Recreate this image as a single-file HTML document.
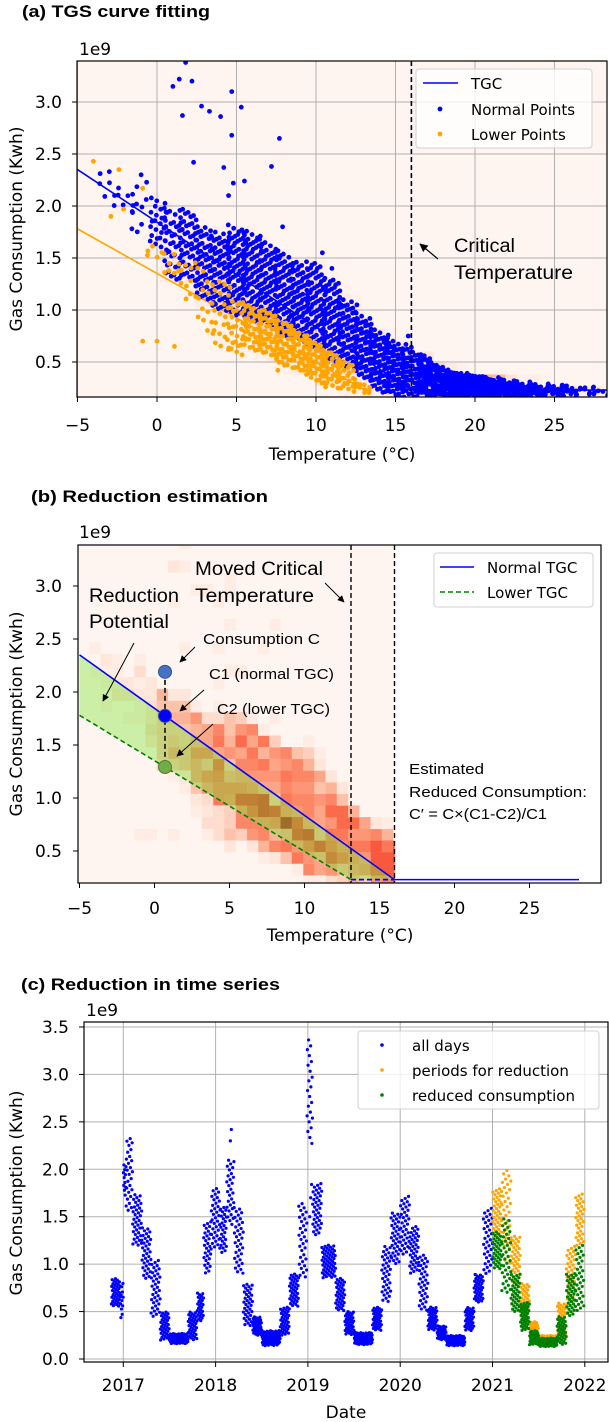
<!DOCTYPE html>
<html><head><meta charset="utf-8">
<style>
html,body{margin:0;padding:0;background:#fff;}
svg{display:block;}
text{font-family:"DejaVu Sans","Liberation Sans",sans-serif;}
.ann{font-family:"Liberation Sans",sans-serif;}
</style></head>
<body>
<svg id="fig" width="609" height="1422" viewBox="0 0 609 1422" xmlns="http://www.w3.org/2000/svg">
<defs>
<clipPath id="clipA"><rect x="77" y="61" width="530" height="336"/></clipPath>
<clipPath id="clipB"><rect x="78" y="545" width="523" height="338"/></clipPath>
<clipPath id="clipC"><rect x="84" y="1022" width="524" height="340"/></clipPath>
<marker id="arr" viewBox="0 0 10 10" refX="9" refY="5" markerWidth="7" markerHeight="7" orient="auto-start-reverse"><path d="M0,0 L10,5 L0,10 z" fill="#000"/></marker>
</defs>
<text x="22" y="17" font-weight="bold" font-size="17" class="ann" textLength="188" lengthAdjust="spacingAndGlyphs">(a) TGS curve fitting</text>
<text x="31" y="502" font-weight="bold" font-size="17" class="ann" textLength="237" lengthAdjust="spacingAndGlyphs">(b) Reduction estimation</text>
<text x="21" y="990" font-weight="bold" font-size="17" class="ann" textLength="259" lengthAdjust="spacingAndGlyphs">(c) Reduction in time series</text>
<g id="gA"></g>
<g id="gB"></g>
<g id="gC"></g>
</svg>
<script>
// ---------- Data: panel (a)/(b) temperature vs consumption (1e9 Kwh) ----------
const tempBins   = [-3,-2,-1,0,1,2,3,4,5,6,7,8,9,10,11,12,13,14,15,16,17,18,19,20,21,22,23,24,25,26,27,28];
const normalLo   = [2.0,1.95,1.7,1.6,1.3,1.3,1.1,1.0,0.95,0.9,0.85,0.75,0.7,0.6,0.5,0.45,0.35,0.22,0.18,0.17,0.17,0.17,0.17,0.17,0.17,0.17,0.17,0.18,0.18,0.19,0.2,0.2];
const normalHi   = [2.35,2.2,2.3,2.1,2.0,2.0,1.8,1.75,1.8,1.75,1.65,1.55,1.45,1.45,1.3,1.1,0.95,0.8,0.7,0.65,0.55,0.45,0.4,0.38,0.35,0.33,0.3,0.28,0.27,0.26,0.25,0.23];
const normalCount= [6,6,10,25,40,50,60,70,80,80,80,80,80,80,80,70,70,70,70,60,60,60,55,55,50,45,40,30,20,15,8,5];
const lowerBins  = [0,1,2,3,4,5,6,7,8,9,10,11,12,13];
const lowerLo    = [1.45,1.3,1.05,0.75,0.6,0.55,0.6,0.55,0.45,0.4,0.3,0.25,0.22,0.2];
const lowerHi    = [1.6,1.55,1.5,1.4,1.3,1.1,1.05,1.0,0.9,0.8,0.7,0.6,0.5,0.3];
const lowerCount = [5,8,10,15,20,30,40,45,45,40,40,35,25,10];
const normalOutT = [1.8,2.2,1.4,1.0,1.6,2.8,3.3,4.0,4.7,5.3,4.7,7.7,2.3,4.2,7.2,4.8,5.5,4.5,-3.0,-1.0,7.9,10.4,11.0,15.8,16.8];
const normalOutV = [3.38,3.2,3.22,3.15,2.87,2.96,2.91,2.86,3.1,2.95,2.68,2.65,2.42,2.37,2.38,2.22,2.24,2.1,2.33,2.3,1.8,1.55,1.4,0.75,0.55];
const lowerOutT  = [-4.0,-2.4,-0.9,-2.9,-2.1,-0.9,0.0,1.1,7.6,10.6,9.4];
const lowerOutV  = [2.43,2.35,2.17,1.9,1.97,0.7,0.7,0.65,0.42,0.26,0.38];
const normalTgcT = [-5,16,28.3];
const normalTgcV = [2.35,0.23,0.23];
const lowerTgcT  = [-5,13.1,16];
const lowerTgcV  = [1.78,0.23,0.23];
const criticalT = 16;
const movedCriticalT = 13.1;
const exampleT = 0.7;
const exampleC = 2.19;
const tickTemps = [-5,0,5,10,15,20,25];
const tickValsAB = [0.5,1.0,1.5,2.0,2.5,3.0];
const tickLabelsAB = ["0.5","1.0","1.5","2.0","2.5","3.0"];
// ---------- Data: panel (c) time series ----------
const blueEdges = [2016.87,2016.97,2017.0,2017.03,2017.1,2017.2,2017.3,2017.4,2017.5,2017.7,2017.8,2017.87,2017.95,2018.05,2018.12,2018.2,2018.3,2018.4,2018.5,2018.7,2018.8,2018.9,2018.99,2019.05,2019.15,2019.3,2019.4,2019.5,2019.7,2019.8,2019.9,2020.0,2020.1,2020.2,2020.3,2020.4,2020.5,2020.7,2020.8,2020.9,2021.0];
const blueLo = [0.55,0.42,1.7,1.55,1.2,0.85,0.45,0.2,0.16,0.2,0.4,0.9,1.15,1.1,1.4,0.9,0.35,0.25,0.14,0.25,0.55,0.85,2.25,1.3,0.85,0.5,0.25,0.15,0.3,0.6,1.0,1.1,0.9,0.5,0.3,0.2,0.14,0.3,0.6,0.9];
const blueHi = [0.85,0.8,2.05,2.35,1.75,1.4,1.05,0.5,0.27,0.5,0.7,1.45,1.8,1.6,2.1,1.6,0.8,0.45,0.3,0.55,0.9,1.65,3.38,1.85,1.2,0.85,0.5,0.28,0.55,1.2,1.55,1.72,1.4,1.1,0.55,0.35,0.25,0.55,0.9,1.6];
const blueOutT = [2018.17,2018.16,2019.02,2019.03,2019.04];
const blueOutV = [2.42,2.3,1.5,1.7,1.84];
const redEdges = [2021.0,2021.1,2021.2,2021.3,2021.4,2021.5,2021.7,2021.8,2021.9,2021.99];
const orangeLo = [1.3,1.0,0.8,0.4,0.2,0.15,0.25,0.6,1.2];
const orangeHi = [1.8,2.0,1.3,0.8,0.4,0.25,0.6,1.2,1.75];
const greenLo  = [0.95,0.7,0.5,0.3,0.15,0.13,0.15,0.45,0.5];
const greenHi  = [1.35,1.5,0.9,0.6,0.3,0.22,0.45,0.9,1.2];
const tickYears = [2017,2018,2019,2020,2021,2022];
const tickValsC = [0,0.5,1.0,1.5,2.0,2.5,3.0,3.5];
const tickLabelsC = ["0.0","0.5","1.0","1.5","2.0","2.5","3.0","3.5"];

const NS='http://www.w3.org/2000/svg';
function mk(tag,attrs,parent){const e=document.createElementNS(NS,tag);for(const k in attrs)e.setAttribute(k,attrs[k]);parent.appendChild(e);return e;}
function frac(v){return v-Math.floor(v);}
const xA=t=>157+15.9*t, yA=v=>362-(v-0.5)*104;
const xB=t=>154.5+15*t, yB=v=>851-(v-0.5)*106;
const xC=y=>123.3+92.3*(y-2017), yC=v=>1359-v*94.86;

const ptsN=[], ptsL=[];
tempBins.forEach((b,i)=>{for(let k=0;k<normalCount[i];k++){const u=frac(k*0.7548777+0.13*i);ptsN.push([b-0.6+1.2*u,normalLo[i]+(normalHi[i]-normalLo[i])*frac(k*0.5698403+0.5)-(u-0.5)*0.08]);}});
lowerBins.forEach((b,i)=>{for(let k=0;k<lowerCount[i];k++){const u=frac(k*0.7548777+0.29*i);ptsL.push([b-0.6+1.2*u,lowerLo[i]+(lowerHi[i]-lowerLo[i])*frac(k*0.5698403+0.25)-(u-0.5)*0.08]);}});
normalOutT.forEach((t,i)=>ptsN.push([t,normalOutV[i]]));
lowerOutT.forEach((t,i)=>ptsL.push([t,lowerOutV[i]]));

const hw=0.75,h0t=-5.1,hh=0.11,h0v=0.16;
const heat={};let hmax=0;
ptsN.concat(ptsL).forEach(p=>{const i=Math.floor((p[0]-h0t)/hw),j=Math.floor((p[1]-h0v)/hh);const k=i+','+j;heat[k]=(heat[k]||0)+1;if(heat[k]>hmax)hmax=heat[k];});
const reds=[[255,245,240],[254,224,210],[252,187,161],[252,146,114],[251,106,74],[239,59,44],[203,24,29],[165,15,21],[103,0,13]];
function redC(f){f=Math.max(0,Math.min(1,f))*8;const i=Math.min(7,Math.floor(f)),r=f-i;const a=reds[i],b=reds[i+1];return 'rgb('+a.map((c,q)=>Math.round(c+(b[q]-c)*r)).join(',')+')';}
function drawHeat(g,xf,yf,maxT,gain,pw){
  for(const k in heat){const [i,j]=k.split(',').map(Number);const t0=h0t+i*hw,v0=h0v+j*hh;if(t0>=maxT)continue;
    const t1=Math.min(t0+hw,maxT);
    const r=mk('rect',{x:xf(t0),y:yf(v0+hh),width:xf(t1)-xf(t0)+0.3,height:yf(v0)-yf(v0+hh)+0.3,fill:redC(Math.pow(heat[k]/hmax,pw)*gain)},g);
    
    }
}
function axesFrame(g,x,y,w,h){const r=mk('rect',{x:x,y:y,width:w,height:h,fill:'none',stroke:'#000','stroke-width':1.2},g);
  
  }
function txt(g,x,y,s,attrs){const t=mk('text',Object.assign({x:x,y:y,'font-size':17},attrs||{}),g);t.textContent=s;return t;}
function ann(g,x,y,s,w,fs){return txt(g,x,y,s,{'font-size':fs,'class':'ann',textLength:w,lengthAdjust:'spacingAndGlyphs'});}

// ================= Panel A =================
(function(){
const g=document.getElementById('gA');
const bg=mk('rect',{x:77,y:61,width:530,height:336,fill:'#fff5f0'},g);


const hg=mk('g',{'clip-path':'url(#clipA)'},g);
drawHeat(hg,xA,yA,99,0.35,1.3);
tickTemps.forEach(t=>{const l=mk('line',{x1:xA(t),x2:xA(t),y1:61,y2:397,stroke:'#b0b0b0','stroke-width':1},g);
  
  
  const k=mk('line',{x1:xA(t),x2:xA(t),y1:397,y2:402,stroke:'#000'},g);
  
  
  const tl=txt(g,xA(t),431,(t<0?'\u2212':'')+Math.abs(t),{'text-anchor':'middle'});
  
  });
tickValsAB.forEach((v,i)=>{const l=mk('line',{x1:77,x2:607,y1:yA(v),y2:yA(v),stroke:'#b0b0b0','stroke-width':1},g);
  
  
  const k=mk('line',{x1:72,x2:77,y1:yA(v),y2:yA(v),stroke:'#000'},g);
  
  
  const tl=txt(g,62,yA(v)+6,tickLabelsAB[i],{'text-anchor':'end'});
  
  });
const cg=mk('g',{'clip-path':'url(#clipA)'},g);
const ln=mk('polyline',{points:normalTgcT.map((t,i)=>xA(t)+','+yA(normalTgcV[i])).join(' '),fill:'none',stroke:'#0000ff','stroke-width':1.6},cg);


const lo=mk('polyline',{points:lowerTgcT.slice(0,2).map((t,i)=>xA(t)+','+yA(lowerTgcV[i])).join(' '),fill:'none',stroke:'#ffa500','stroke-width':1.6},cg);


ptsN.forEach(p=>{const c=mk('circle',{cx:xA(p[0]),cy:yA(p[1]),r:2.4,fill:'#0000ff'},cg);
  
  });
ptsL.forEach(p=>{const c=mk('circle',{cx:xA(p[0]),cy:yA(p[1]),r:2.4,fill:'#ffa500'},cg);
  
  });
const cl=mk('line',{x1:xA(criticalT),x2:xA(criticalT),y1:61,y2:397,stroke:'#000','stroke-width':1.6,'stroke-dasharray':'5,3'},g);


axesFrame(g,77,61,530,336);
const lg=mk('g',{},g);


mk('rect',{x:416,y:69,width:176,height:79,rx:3,fill:'#fff',"fill-opacity":0.8,stroke:'#d0d0d0'},lg);
mk('line',{x1:423,x2:458,y1:83,y2:83,stroke:'#0000ff','stroke-width':1.6},lg);
mk('circle',{cx:440,cy:109,r:2.4,fill:'#0000ff'},lg);
mk('circle',{cx:440,cy:134,r:2.4,fill:'#ffa500'},lg);
txt(lg,471,89,'TGC',{'font-size':15});
txt(lg,471,115,'Normal Points',{'font-size':15});
txt(lg,471,140,'Lower Points',{'font-size':15});
const ar=mk('line',{x1:438,y1:259,x2:420,y2:244,stroke:'#000','stroke-width':1.2,'marker-end':'url(#arr)'},g);


const a1=ann(g,454,252,'Critical',61,19);


const a2=ann(g,454,279,'Temperature',119,19);


const e9=txt(g,79,55,'1e9');


const xt=txt(g,342,460,'Temperature (\u00b0C)',{'text-anchor':'middle'});


const yt=txt(g,0,0,'Gas Consumption (Kwh)',{'text-anchor':'middle',transform:'translate(22,229) rotate(-90)'});


})();

// ================= Panel B =================
(function(){
const g=document.getElementById('gB');
const bg=mk('rect',{x:78,y:545,width:xB(criticalT)-78,height:338,fill:'#fff5f0'},g);


const cg=mk('g',{'clip-path':'url(#clipB)'},g);
drawHeat(cg,xB,yB,criticalT,1.0,1.0);
const poly=[[normalTgcT[0],normalTgcV[0]],[normalTgcT[1],normalTgcV[1]],[lowerTgcT[1],lowerTgcV[1]],[lowerTgcT[0],lowerTgcV[0]]];
const fl=mk('polygon',{points:poly.map(p=>xB(p[0])+','+yB(p[1])).join(' '),fill:'rgb(130,232,65)','fill-opacity':0.42},cg);


const ln=mk('polyline',{points:normalTgcT.map((t,i)=>xB(t)+','+yB(normalTgcV[i])).join(' '),fill:'none',stroke:'#0000ff','stroke-width':1.6},cg);


const lo=mk('polyline',{points:lowerTgcT.slice(0,2).map((t,i)=>xB(t)+','+yB(lowerTgcV[i])).join(' '),fill:'none',stroke:'#008000','stroke-width':1.6,'stroke-dasharray':'5,3'},cg);


const lf=mk('line',{x1:xB(lowerTgcT[1]),x2:xB(lowerTgcT[2]),y1:yB(lowerTgcV[1]),y2:yB(lowerTgcV[2]),stroke:'#0000ff','stroke-width':1.8,'stroke-dasharray':'5,3'},cg);


[movedCriticalT,criticalT].forEach(t=>{const l=mk('line',{x1:xB(t),x2:xB(t),y1:545,y2:883,stroke:'#000','stroke-width':1.4,'stroke-dasharray':'5,3'},g);
  
  });
axesFrame(g,78,545,523,338);
tickTemps.forEach(t=>{const k=mk('line',{x1:xB(t),x2:xB(t),y1:883,y2:888,stroke:'#000'},g);
  
  
  const tl=txt(g,xB(t),914,(t<0?'\u2212':'')+Math.abs(t),{'text-anchor':'middle'});
  
  });
tickValsAB.forEach((v,i)=>{const k=mk('line',{x1:73,x2:78,y1:yB(v),y2:yB(v),stroke:'#000'},g);
  
  
  const tl=txt(g,62,yB(v)+6,tickLabelsAB[i],{'text-anchor':'end'});
  
  });
const c1v=normalTgcV[0]+(normalTgcV[1]-normalTgcV[0])*(exampleT-normalTgcT[0])/(normalTgcT[1]-normalTgcT[0]);
const c2v=lowerTgcV[0]+(lowerTgcV[1]-lowerTgcV[0])*(exampleT-lowerTgcT[0])/(lowerTgcT[1]-lowerTgcT[0]);
const vl=mk('line',{x1:xB(exampleT),x2:xB(exampleT),y1:yB(exampleC),y2:yB(c2v),stroke:'#333','stroke-width':2,'stroke-dasharray':'5,3'},g);


const pc=mk('circle',{cx:xB(exampleT),cy:yB(exampleC),r:6.5,fill:'#4472c4',stroke:'#2f528f','stroke-width':1},g);


const p1=mk('circle',{cx:xB(exampleT),cy:yB(c1v),r:6.5,fill:'#0000ff',stroke:'#2f528f','stroke-width':1},g);


const p2=mk('circle',{cx:xB(exampleT),cy:yB(c2v),r:6.5,fill:'#70ad47',stroke:'#507e32','stroke-width':1},g);


const arrows=[[325,583,344,602],[134,643,103,701],[195,647,180,662],[204,690,180,711],[213,724,177,756]];
arrows.forEach(a=>{const l=mk('line',{x1:a[0],y1:a[1],x2:a[2],y2:a[3],stroke:'#000','stroke-width':1,'marker-end':'url(#arr)'},g);
  
  });
const A=(x,y,s,w,fs,name)=>{const t=ann(g,x,y,s,w,fs);
  
  };
A(195,575,'Moved Critical',128,19,'moved-critical-label');
A(195,602,'Temperature',119,19,'moved-critical-label-2');
A(89,602,'Reduction',90,19,'reduction-potential-label');
A(89,628,'Potential',80,19,'reduction-potential-label-2');
A(203,644,'Consumption C',117,15,'consumption-c-label');
A(209,679,'C1 (normal TGC)',125,15,'c1-label');
A(217,714,'C2 (lower TGC)',113,15,'c2-label');
A(409,774,'Estimated',75,15,'estimated-label');
A(409,797,'Reduced Consumption:',178,15,'estimated-label-2');
A(409,819,'C\u2032 = C\u00d7(C1-C2)/C1',138,15,'estimated-formula');
const lg=mk('g',{},g);


mk('rect',{x:434,y:553,width:159,height:54,rx:3,fill:'#fff',"fill-opacity":0.8,stroke:'#d0d0d0'},lg);
mk('line',{x1:440,x2:474,y1:567,y2:567,stroke:'#0000ff','stroke-width':1.6},lg);
mk('line',{x1:440,x2:474,y1:592,y2:592,stroke:'#008000','stroke-width':1.6,'stroke-dasharray':'5,3'},lg);
txt(lg,487,573,'Normal TGC',{'font-size':15});
txt(lg,487,598,'Lower TGC',{'font-size':15});
const e9=txt(g,79,538,'1e9');


const xt=txt(g,340,941,'Temperature (\u00b0C)',{'text-anchor':'middle'});


const yt=txt(g,0,0,'Gas Consumption (Kwh)',{'text-anchor':'middle',transform:'translate(22,714) rotate(-90)'});


})();

// ================= Panel C =================
(function(){
const g=document.getElementById('gC');
tickYears.forEach(y=>{const l=mk('line',{x1:xC(y),x2:xC(y),y1:1022,y2:1362,stroke:'#b0b0b0','stroke-width':1},g);
  
  
  const k=mk('line',{x1:xC(y),x2:xC(y),y1:1362,y2:1367,stroke:'#000'},g);
  
  
  const tl=txt(g,xC(y),1391,String(y),{'text-anchor':'middle'});
  
  });
tickValsC.forEach((v,i)=>{const l=mk('line',{x1:84,x2:608,y1:yC(v),y2:yC(v),stroke:'#b0b0b0','stroke-width':1},g);
  
  
  const k=mk('line',{x1:79,x2:84,y1:yC(v),y2:yC(v),stroke:'#000'},g);
  
  
  const tl=txt(g,69,yC(v)+6,tickLabelsC[i],{'text-anchor':'end'});
  
  });
const cg=mk('g',{'clip-path':'url(#clipC)'},g);
function series(edges,lo,hi,color,name,phase){
  for(let s=0;s<lo.length;s++){const days=Math.max(1,Math.round((edges[s+1]-edges[s])*365));
    for(let d=0;d<days;d++){const f=(d+0.5)/days;const t=edges[s]+(edges[s+1]-edges[s])*f;
      const v=lo[s]+(hi[s]-lo[s])*frac((d+s*7)*0.6180339+phase);
      const c=mk('circle',{cx:xC(t),cy:yC(v),r:1.6,fill:color},cg);
      
      }}}
series(blueEdges,blueLo,blueHi,'#0000ff','all-days-point',0.1);
blueOutT.forEach((t,i)=>{const c=mk('circle',{cx:xC(t),cy:yC(blueOutV[i]),r:1.6,fill:'#0000ff'},cg);
  
  });
series(redEdges,orangeLo,orangeHi,'#ffa500','reduction-period-point',0.3);
series(redEdges,greenLo,greenHi,'#008000','reduced-consumption-point',0.7);
axesFrame(g,84,1022,524,340);
const lg=mk('g',{},g);


mk('rect',{x:358,y:1031,width:241,height:78,rx:3,fill:'#fff',"fill-opacity":0.8,stroke:'#d0d0d0'},lg);
mk('circle',{cx:382,cy:1045,r:1.8,fill:'#0000ff'},lg);
mk('circle',{cx:382,cy:1070,r:1.8,fill:'#ffa500'},lg);
mk('circle',{cx:382,cy:1095,r:1.8,fill:'#008000'},lg);
txt(lg,412,1051,'all days',{'font-size':15});
txt(lg,412,1076,'periods for reduction',{'font-size':15});
txt(lg,412,1101,'reduced consumption',{'font-size':15});
const e9=txt(g,86,1016,'1e9');


const xt=txt(g,346,1418,'Date',{'text-anchor':'middle'});


const yt=txt(g,0,0,'Gas Consumption (Kwh)',{'text-anchor':'middle',transform:'translate(22,1193) rotate(-90)'});


})();
</script>
</body></html>
